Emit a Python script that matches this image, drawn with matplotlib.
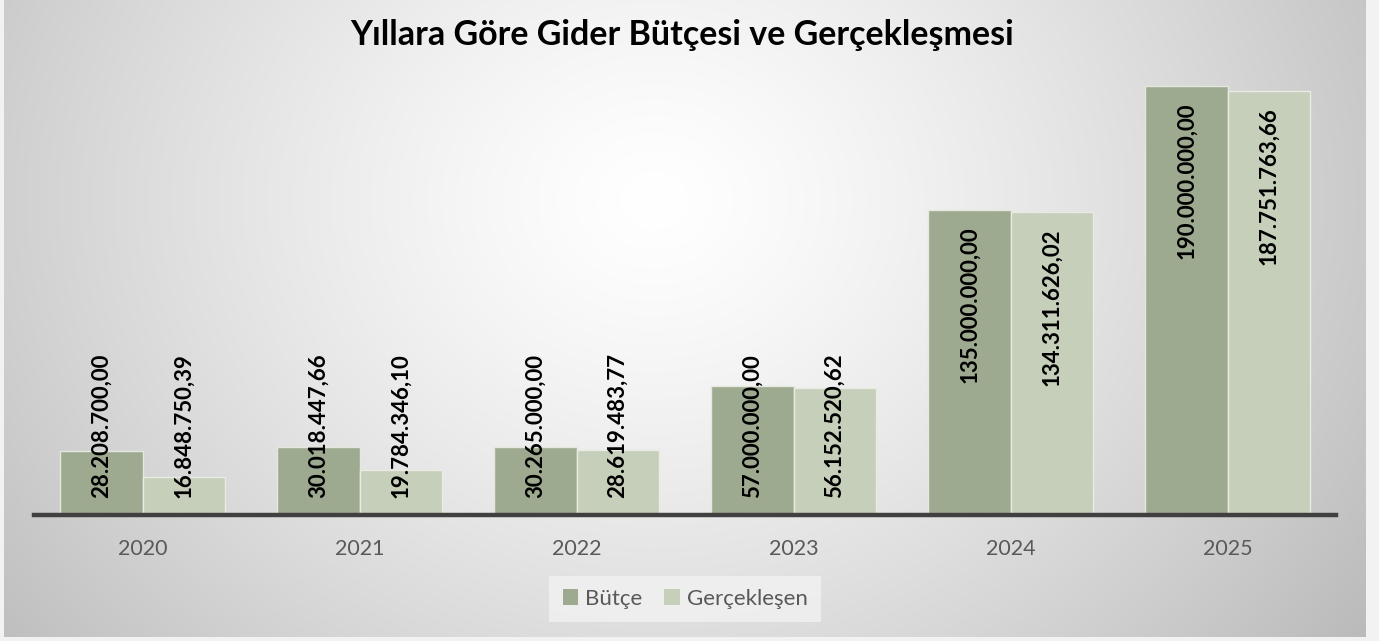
import numpy as np
import matplotlib
matplotlib.use("Agg")
import matplotlib.pyplot as plt
from matplotlib.patches import Patch

# Data
years = ["2020", "2021", "2022", "2023", "2024", "2025"]
butce = [28208700.00, 30018447.66, 30265000.00, 57000000.00, 135000000.00, 190000000.00]
gerceklesen = [16848750.39, 19784346.10, 28619483.77, 56152520.62, 134311626.02, 187751763.66]
series_names = ["Bütçe", "Gerçekleşen"]

def tr_fmt(v):
    s = f"{v:,.2f}"
    return s.replace(",", "X").replace(".", ",").replace("X", ".")

W, H = 1379, 641
fig = plt.figure(figsize=(W / 100, H / 100), dpi=100)
fig.patch.set_facecolor("#f2f2f2")
plt.rcParams["font.family"] = ["Lato", "DejaVu Sans"]

# background panel with radial gradient
bg = fig.add_axes([4 / W, 4 / H, 1362 / W, 637 / H])
bg.set_axis_off()
yy, xx = np.mgrid[0:637, 0:1362]
d = np.sqrt((xx - 650) ** 2 + ((yy - 200) * 1.15) ** 2)
shade = 1 - 0.25 * np.clip(d / 820, 0, 1.2) ** 1.3
img = np.dstack([shade, shade, shade])
bg.imshow(img, aspect="auto", extent=[0, 1, 0, 1], origin="upper")

ax = fig.add_axes([34 / W, 1 - 515 / H, 1302 / W, (515 - 63.4) / H])
ax.patch.set_alpha(0)

x = np.arange(len(years))
bw = 0.378
c1, c2 = "#9eaa8f", "#c6cfba"
b1 = ax.bar(x - bw / 2, butce, bw, color=c1, edgecolor="#e4e8de", linewidth=1)
b2 = ax.bar(x + bw / 2, gerceklesen, bw, color=c2, edgecolor="#e8ece2", linewidth=1)

ax.set_xlim(-0.5, len(years) - 0.5)
ax.set_ylim(0, 200_000_000)
ax.set_yticks([])
ax.set_xticks(x)
ax.set_xticklabels(years, fontsize=15.5, color="#595959")
ax.tick_params(axis="x", length=0, pad=17)
for s in ["top", "right", "left"]:
    ax.spines[s].set_visible(False)
ax.spines["bottom"].set_color("#404040")
ax.spines["bottom"].set_linewidth(3.2)

# data labels: inside end, pushed up if the bar is too short
texts = []
for bars, vals in [(b1, butce), (b2, gerceklesen)]:
    for bar, v in zip(bars, vals):
        xc = bar.get_x() + bar.get_width() / 2
        t = ax.annotate(tr_fmt(v), (xc, v), xytext=(0, -12), textcoords="offset points",
                        rotation=90, ha="center", va="top", fontsize=16,
                        fontweight="bold", color="black")
        texts.append((t, xc))

fig.canvas.draw()
r = fig.canvas.get_renderer()
base_px = ax.transData.transform((0, 0))[1]
for t, xc in texts:
    ext = t.get_window_extent(r)
    if ext.y0 < base_px + 17:
        t.set_visible(False)
        ax.annotate(t.get_text(), (xc, 0), xytext=(0, 12), textcoords="offset points",
                    rotation=90, ha="center", va="bottom", fontsize=16,
                    fontweight="bold", color="black")

fig.text(682 / W, 1 - 35 / H, "Yıllara Göre Gider Bütçesi ve Gerçekleşmesi",
         ha="center", va="center", fontsize=24.5, fontweight="bold", color="black")

handles = [Patch(facecolor=c1, edgecolor="none"), Patch(facecolor=c2, edgecolor="none")]
leg = fig.legend(handles, series_names, loc="center", bbox_to_anchor=(685 / W, 1 - 599 / H),
                 ncol=2, fontsize=16, frameon=True, facecolor="#f2f2f2", edgecolor="none",
                 handlelength=0.7, handleheight=0.7, handletextpad=0.3, columnspacing=1.0,
                 borderpad=0.6, fancybox=False)
for txt in leg.get_texts():
    txt.set_color("#595959")

fig.savefig("out.png", dpi=100, facecolor=fig.get_facecolor())
